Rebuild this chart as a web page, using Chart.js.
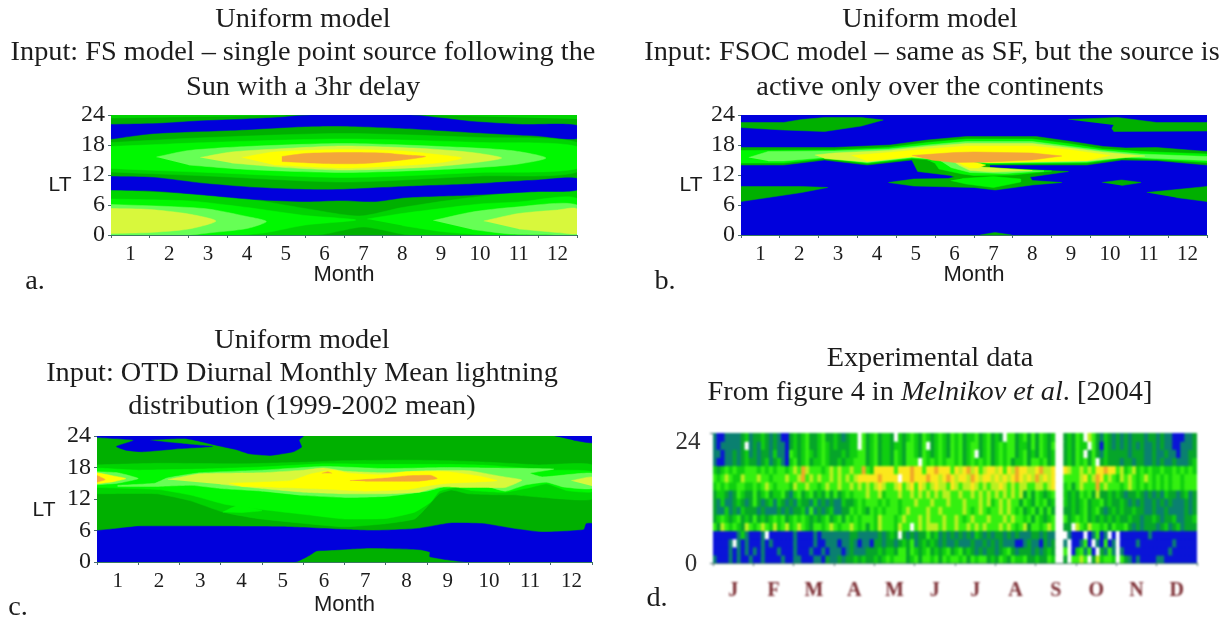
<!DOCTYPE html>
<html>
<head>
<meta charset="utf-8">
<script src="https://cdn.jsdelivr.net/npm/chart.js@4/dist/chart.umd.min.js"></script>
<style>
  html, body { margin: 0; background: #fff; }
  body { position: relative; width: 1229px; height: 618px; overflow: hidden; }
  canvas { position: absolute; filter: blur(0.6px); }
  .txt { position: absolute; white-space: nowrap; transform: translate(-50%, -50%); color: #1c1c1c; filter: blur(0.3px); }
  .serif { font-family: "Liberation Serif", serif; font-size: 28.3px; }
  .sans { font-family: "Liberation Sans", sans-serif; font-size: 21px; }
  .tick { font-family: "Liberation Serif", serif; font-size: 25px; color: #333; filter: blur(0.5px); }
</style>
</head>
<body>
<script>
const monthTicks = [0.5, 1, 1.5, 2, 2.5, 3, 3.5, 4, 4.5, 5, 5.5, 6, 6.5, 7, 7.5, 8, 8.5, 9, 9.5, 10, 10.5, 11, 11.5, 12, 12.5];
const edgeTicks = [0, 0.5, 1, 1.5, 2, 2.5, 3, 3.5, 4, 4.5, 5, 5.5, 6, 6.5, 7, 7.5, 8, 8.5, 9, 9.5, 10, 10.5, 11, 11.5, 12];
const ltTicks = [0, 6, 12, 18, 24];
const dLtTicks = [0, 24];
const dMonths = ["J", "F", "M", "A", "M", "J", "J", "A", "S", "O", "N", "D"];

// contour outlines, [month, LT]
const fullBox = [[0.5,0],[12.5,0],[12.5,24],[0.5,24]];

const aBlueTop = [[0.5,22.1],[1.7,22.3],[2.75,22.8],[4,23.2],[4.8,23.5],[5.67,24],[8.2,24],[9,23.4],[9.8,22.7],[11.1,22.1],[12.5,21.9],[12.5,19.3],[11.5,19.8],[9.8,20.5],[8.1,21.3],[6.4,21.8],[5.5,21.7],[3.8,21],[1.6,20.3],[0.5,19.2]];
const aBlueMid = [[0.5,11.7],[1.6,11.5],[2.9,10.3],[4.2,9.5],[5.5,9.1],[6.4,9.1],[8.1,9.7],[9.8,10.2],[11.5,11],[12.5,11.3],[12.5,9],[11.5,8.7],[9.8,8],[8.1,7.5],[7.3,6.7],[6.4,6.9],[5.5,6.7],[4.2,7.1],[2.9,8],[1.6,8.8],[0.5,9]];
const aStripL = [[0.5,24],[5,24],[0.5,23.4]];
const aStripR = [[8.6,24],[12.5,24],[12.5,23.2]];
const aMid = [[0.5,18.5],[3,19.5],[6.5,20.3],[10,19.5],[12.5,18.5],[12.5,12.6],[10,11.8],[6.5,10.6],[3,11.8],[0.5,12.6]];
const aBright = [[0.5,17.7],[3,18.5],[6.5,19.2],[10,18.5],[12.5,17.7],[12.5,13.3],[10,12.5],[6.5,11.5],[3,12.5],[0.5,13.3]];
const aLight = [[1.67,15.6],[2.5,16.9],[4,17.7],[6.5,18.3],[9,17.7],[10.8,16.9],[11.7,15.4],[10.8,14],[9,13.1],[6.5,12.5],[4,13.1],[2.5,14]];
const aPale = [[2.8,15.5],[3.6,16.6],[5,17.3],[6.5,17.8],[8.5,17.3],[9.8,16.5],[10.56,15.4],[9.8,14.4],[8.5,13.5],[6.5,13],[5,13.5],[3.6,14.4]];
const aYellow = [[3.87,15.5],[4.7,16.6],[6.5,17.1],[8,16.8],[9,16],[9.53,15.4],[9,14.5],[8,13.9],[6.5,13.4],[4.7,14]];
const aOrange = [[4.9,15.7],[5.5,16.3],[6.5,16.5],[7.5,16.4],[8.1,16],[8.6,15.7],[8,15],[7,14.3],[6,14.3],[4.9,14.7]];
const aLowMid = [[0.5,9],[2.9,8],[4.2,7],[5.5,5.3],[6.9,3.8],[8,5.5],[9.8,7.5],[12.5,9],[12.5,0],[8.2,0],[7,1.6],[5.8,0],[0.5,0]];
const aLowBrightL = [[0.5,7.2],[2.5,6.8],[4,5.5],[5.5,3.9],[6.8,3],[5.5,2],[4.5,0.5],[3.8,0],[0.5,0]];
const aLowBrightR = [[7.1,3.2],[8,4.3],[9,5.3],[10,6.2],[11,6.6],[12.5,7.3],[12.5,0],[10.2,0],[9,0.7],[8,1.9]];
const aLowLightL = [[0.5,6.1],[2,5.7],[3,5.2],[4,3.7],[4.5,2.7],[4,1.3],[3,0.4],[2.5,0],[0.5,0]];
const aLowLightR = [[8.8,2.9],[9.8,4.6],[10.8,5.5],[12.5,6],[12.5,0],[10.8,0.2],[9.8,1.1]];
const aLowPaleL = [[0.5,5.3],[1.5,5.1],[2.5,4.2],[3.2,2.8],[2.5,1.2],[1.5,0.5],[0.5,0.3]];
const aLowPaleR = [[10.1,2.8],[11,4.3],[12,5],[12.5,5.2],[12.5,0.3],[12,0.5],[11,1.2]];

const bTopL = [[0.5,22.5],[1.6,22.5],[2.06,23.1],[2.65,23.5],[3.6,23.5],[4.16,23],[3.6,21.8],[2.65,20.7],[1.6,21],[0.5,21.5]];
const bTopR = [[8.93,23.1],[10.2,23.5],[11.2,22.5],[12.5,22.5],[12.5,20.8],[10.1,20.7],[10.05,21.3],[10.1,22]];
const bMorningL = [[0.5,9.7],[2.06,9.7],[2.73,9.5],[2.06,8.5],[1.46,7.8],[0.5,6.7]];
const bMorningR = [[10.95,8.5],[12.5,9.7],[12.5,6.7],[11.7,7.5]];
const bDiamond = [[9.8,10.5],[10.3,11],[10.8,10.5],[10.3,9.9]];
const bNight = [[6.66,0],[7.04,0.5],[7.47,0]];
const bMain = [[0.5,17.5],[2.9,17.5],[4.35,18],[5.3,19],[6.3,19.7],[8.1,19.7],[9,18.7],[9.83,17.7],[10.4,17.4],[11.2,17.5],[12.5,16.7],[12.5,14],[11.2,14.9],[10.3,15],[9.4,14],[6.9,14],[6.9,13.5],[8.93,12.7],[7.94,11.6],[8,10.9],[8.76,10.5],[8,10],[7.05,9],[6.5,9.5],[4.95,9.8],[4.3,10.5],[4.95,11.2],[5.84,11.3],[6,11.6],[5.9,11.9],[5.05,12.7],[4.9,15],[3.75,14],[2.65,15],[1.6,14],[0.5,14]];
const bBright = [[0.5,16.9],[2.9,17],[4.3,17.5],[5.3,18.5],[6.3,19.2],[8,19.2],[9,18.2],[9.8,17.2],[10.8,16.7],[12.5,16.2],[12.5,14.5],[11.2,15.1],[10.4,15.4],[9.4,14.4],[6.9,14.2],[6.5,14.2],[5.4,15],[4.9,15.3],[3.75,14.3],[2.65,15.3],[1.6,14.4],[0.5,14.4]];
const bLight = [[0.7,15.5],[1.2,16.7],[2.9,16.8],[4.3,17.2],[5.3,18],[6.3,18.7],[8,18.7],[9,17.7],[9.8,16.9],[10.8,16.2],[12.5,15.7],[12.5,14.9],[11.2,15.3],[10.4,15.6],[9.4,14.6],[6.9,14.4],[5.4,15.2],[4.9,15.5],[3.75,14.5],[2.65,15.5],[1.6,14.8],[1.2,14.8]];
const bPale = [[2.4,16],[2.9,16.4],[4.3,16.9],[5.3,17.7],[6.3,18.3],[8,18.3],[9,17.4],[9.8,16.6],[10.9,15.8],[9.9,15.2],[9.4,14.8],[6.9,14.5],[5.4,15.3],[4.9,15.6],[3.75,14.6],[2.65,15.3]];
const bYellow = [[3.35,15.9],[4.3,16.5],[5.3,17.2],[6.3,17.8],[8,17.8],[9,17],[10,15.9],[9.4,14.9],[6.9,14.5],[5.4,15.4],[4.9,15.7],[3.75,14.8]];
const bOrange = [[4.9,15.9],[6,16.5],[6.5,16.6],[8,16.4],[8.76,15.8],[8,15],[6.9,14.6],[6,14.5],[5.4,15]];
const bHookBright = [[5.3,15],[5.9,14.7],[6.4,13.6],[6.9,13.4],[8.5,12.8],[7.5,12],[6.5,11.9],[6.2,12.2],[5.6,13.2],[5.5,14.3]];
const bHookLight = [[5.6,15],[6,14.7],[6.5,13.6],[6.9,13.2],[8.3,12.8],[7.3,12.3],[6.4,12.5],[5.9,13.5]];
const bHookPale = [[5.9,15],[6.4,14.6],[6.7,13.6],[8,12.9],[7,12.6],[6.4,12.9],[6.1,14]];
const bHookYellow = [[6,14.9],[6.5,14.6],[6.8,14],[6.6,13.4],[6.4,13.4],[6.2,14]];
const bLowBright = [[6.2,11.3],[7,11.7],[7.7,11.2],[7.7,10.6],[7,9.5],[6.3,10.2],[5.9,10.9]];

const cBlueLow = [[0.5,6],[0.97,6.35],[1.54,6.8],[3.56,6.8],[5.18,6.67],[6.47,6.2],[7.2,6],[8.25,6.35],[9.06,7.4],[9.87,7.3],[10.6,6.35],[11.3,5.7],[12.3,6.15],[12.36,7.3],[12.5,7.3],[12.5,0],[9.45,0],[8.57,1],[8.57,1.9],[8.33,2.35],[7.12,2.65],[6.39,2.35],[5.82,2.1],[5.66,1.3],[5.3,0],[0.5,0]];
const cBlueTop = [[0.5,24],[5.5,24],[5.4,23.2],[5.46,21.9],[5.26,21],[4.7,20.3],[4.2,20.6],[3.88,21.4],[3.5,22.05],[2.67,23.5],[1.78,23.2],[2.75,22.4],[3.3,22],[2.5,21.6],[1.6,21],[1.2,21.3],[0.97,22],[1.4,23.2],[0.5,23.7]];
const cBlueCorner = [[11.6,24],[12.5,24],[12.5,22.7],[12.05,23.2]];
const cMid = [[0.5,18.5],[2,18.8],[4,18.7],[5.5,19],[6.5,19.3],[8,19.4],[9,19.3],[10,19],[11.2,18.5],[12.5,18.5],[12.5,12],[11.3,12.3],[10.6,12.8],[10.2,12.8],[9.5,13],[9.1,13.7],[8.8,13],[8.5,10.5],[8.2,8.2],[7.5,7.3],[6.5,6.7],[5.58,7.3],[4.37,8.3],[3.56,9.5],[2.75,11.7],[1.94,13],[0.5,13]];
const cBright = [[0.5,17.9],[1.5,17.5],[3,17.7],[4.5,18.1],[6,18.7],[7.5,18.6],[9,18.6],[10,18.4],[11.5,17.5],[12.5,17.2],[12.5,13.4],[11.9,13.6],[11.4,14.9],[11,14.2],[10.4,13.3],[10,13.4],[9.6,13.6],[9.2,14.2],[8.8,13.5],[8.6,11.5],[8.2,9.5],[7.5,8.3],[6.5,8.2],[5.6,9],[4.5,10],[3.6,11],[2.8,12.7],[2,13.8],[0.5,14.2]];
const cPatchL = [[3.55,9.5],[3.9,10.7],[4.5,9.8],[4,9.4]];
const cPatchR = [[7.8,10.6],[8,11],[8.3,10.5],[8,10.2]];
const cLight = [[1,14.6],[1.9,15],[2.2,16],[3,17],[4.5,17.5],[6,18.2],[7.5,17.8],[9,18],[10,17.9],[11.57,17.7],[11,16.9],[11.3,16.2],[12.5,16.9],[12.5,14],[11.8,14.3],[11.4,15.2],[10.9,14.7],[10.4,13.5],[9.9,14.5],[9.5,14.3],[9,14.5],[8.5,13.5],[7.5,12.5],[6.5,12.3],[5.5,12.7],[4.5,13.5],[3.5,14],[2.8,14.6],[2,14.4],[1,14.4]];
const cLightBlob = [[0.5,17.2],[1,17],[1.5,15.9],[1,15],[0.5,14.7]];
const cPale = [[2.22,15.7],[3,16.8],[4.5,17],[5.5,17.5],[6,17.9],[6.5,17.3],[7.5,17],[8.5,17.4],[9.5,17.4],[10.3,16.3],[10.8,15.6],[10.4,14.2],[9.9,14.2],[9.3,14.2],[8.8,14.3],[8.3,13.3],[7.5,13],[6.5,13],[5.5,13.3],[4.5,14],[3.5,14.8]];
const cPaleEnd = [[12,15.5],[12.5,16.2],[12.5,14.5]];
const cYellow = [[3.7,15],[5.2,15.5],[5.7,16.8],[6.2,17.5],[6.6,16.9],[7.4,16.6],[8,17.2],[9,17.2],[9.8,16.3],[10.2,15.5],[9.6,15.2],[9,15],[8.5,14.5],[8,13.8],[7,13.5],[6,13.9],[5,14.2],[4,14.4]];
const cYellowBlob = [[0.5,17],[0.9,16.4],[1.2,15.9],[0.9,15.3],[0.5,14.9]];
const cOrange = [[6.63,15.5],[7.5,16],[8,16.4],[8.6,16.5],[8.75,15.9],[8.3,15.4],[7,15.4]];
const cOrangeBlob = [[0.5,16.5],[0.7,15.7],[0.5,15.2]];
const cOrangeDot = [[5.95,16.9],[6.1,17.2],[6.2,16.9]];

// panel d: one string per LT row (top first), 10 cells a month
const dRowEdges = [24, 22.5, 21, 19.5, 18, 16.5, 15, 13.5, 12, 10.5, 9, 7.5, 6, 4.5, 3, 1.5, 0];
const dRows = [
  "tbbttttgmt ggmgtgtbbg mgmlggmlgg mgtgmmwlgm lgmmgwmgml mglmgmlmgl mlgmmlgmlg mgwllgmlgl glmgmwwgmg lmwylgtmgt gtgtgggtgg tgttbbbttg",
  "tbtttttgwt gtmgtgttbg mgmlggmlmg mgggmmwlgm lgmmgmmgll mglwgmlmgl mlgmllgmlg mlmllgmmgl glmglwwgmg lmmwlgbmgt gtgtgtgttg tgttbbtttg",
  "ttbttgtgmt gtggtmttbl mgmlmgmlmg ggmgmmllgm lgmmglmgll mglmgmlmgl mlgmlwgmlg mlmllgmlgm glmgmwwgmg lmwglgtmgg gggtgggttg ttgttbttgg",
  "tbbttgtgmg gtgmtgmtbm lgmlgmmlmg gmgmmlllgm lgmmglmgll lwlmlmlmll mlgmlmlmlg mlmlgmmlgl lmlgmwwgmg lmlglwgmgg gtggtggttg tgttgtttgm",
  "mgmlmlmmll lmlmlmllml yloylllmly lyllyllolm YYYYYlYYYo YYlYYoYYYl YyYoyYlyYY yYlYyoYYyy YoyyYwwYyl lylylYYoYY lymlymlmlm mlmmlmlmlm",
  "lmlylmmyll lyllmlllyl lyolylylly lylylyYYYY YoYYYYwYYo YYYoYYyYoY yYYyoYyYYy YyYyYoYyYy oyYyYwwlll lyYlyoYlyl mylylmlylm lmlmllmlll",
  "mlmlmmllmm lmlylmlllm yllyllmlyl lyllylylyl yYyllyYlyY lYylyYyylY ylyyYylyly yYylylyyll yylyYwwmlg lylllolyll lmlylmlmlm lmlmllmlll",
  "gmmgtglmgg lgmlgmmlgt mlgmlgmglg lgmlmlllyl lymlllylly lylylylyyl lyllylylyl ylylylyglg lmgmlwwmgm glmlgyggmg mgtggmgtgt gtmggtgmtg",
  "gtmttgmgtg lgtgmtmgtg tmggtmtgtg ttmggmlmll lmlmllmlll ylllylllyl llylllylym lylyllglmg lmlgmwwmgm gmlgmmlgmg gmgtgtgttg tgtgtttgtg",
  "gttmtgtmgg gtgtttgtgt ggmtltgtgm ttgglmlmgl mlmlllmlyl lllyllylll llylmlylml lylylmlgml glglgwwggm gmlgmlgtgm gmggmggttg ttgttttgtg",
  "gmlmgmlgmg lgmgmlmlgm lmlmgmgmlg mlglmlmlll mylllmlyll lylylllyll ylmlylllyl llylyllmlg lmgmlwwlgm lmlgmgmgmg mggmggtggm gtggmttggm",
  "lgylmlmgyl mlylmymlym lylmgllmly lmllylmlgl mylllmyllw lylyyylyll yllylylyll lylylmlygl lmlylwwggw ylmyllmlgl mmlgtgtggg tgmtgmtggg",
  "bbbbbbtmtb bbtwbbbbbb tbbbbtbttt ttttggtttt tgtgmgwgtg tgglgmtgtg tgtgtmgtgt ggtgtgtttg gtgttwwwtb bbwbtlbtwb wbbbbbbbtb bbbbbbbbbb",
  "bbbbtwtbtb bbtbtbbbbb tbbbbtbbtt tbttgtbttb ggtggtgmgl tgmgmgtgtt gtttgttgtg tgtttbbtgt tbgtgwwtwb btlbwtblbt wbbbbtbbbb bbbbtbbbbb",
  "bbbbtbtbtb tbtbbbtbbb tbbbtbbtbt ttbtgtttgg gmgmmgllgl mgmlgmgmlg mlgmgtgtgg tgmlgtgggt gtgmgwwlwb mltlbwgtlt wtbbbbbbbb bbbtbbbbbb",
  "tbbbtbtbbt bbtbbbbtbb ttbbbttbgt tgtggmgmgg mgmlmlllgm lgllmlglml lmlglmllgm glmglmmlgg mgglmwwgwl lylwgymllm wlgtbtbbbb ttbbbbbbbb"
];

const BLUE = "#0000dc", DARK = "#00b000", MID = "#00d400", BRIGHT = "#00f800",
      LIGHT = "#66ff55", PALE = "#d8f83c", YELLOW = "#ffff00", ORANGE = "#f4a63a";
const dColors = { b: "#0a14d8", t: "#0a8070", g: "#06a52a", m: "#10cf10", l: "#34f010", y: "#b8f020", Y: "#fbe81c", o: "#f0a828", w: "#ffffff" };

// painted back to front
const panelA = [[DARK, fullBox], [MID, aStripL], [MID, aStripR], [MID, aMid], [BRIGHT, aBright], [LIGHT, aLight], [PALE, aPale], [YELLOW, aYellow], [ORANGE, aOrange],
  [MID, aLowMid], [BRIGHT, aLowBrightL], [BRIGHT, aLowBrightR], [LIGHT, aLowLightL], [LIGHT, aLowLightR], [PALE, aLowPaleL], [PALE, aLowPaleR], [BLUE, aBlueTop], [BLUE, aBlueMid]];
const panelB = [[BLUE, fullBox], [DARK, bTopL], [DARK, bTopR], [DARK, bMorningL], [DARK, bMorningR], [DARK, bDiamond], [DARK, bNight], [DARK, bMain], [BRIGHT, bBright], [LIGHT, bLight], [PALE, bPale], [YELLOW, bYellow],
  [BRIGHT, bHookBright], [LIGHT, bHookLight], [PALE, bHookPale], [YELLOW, bHookYellow], [BRIGHT, bLowBright], [ORANGE, bOrange]];
const panelC = [[DARK, fullBox], [MID, cMid], [BRIGHT, cBright], [BRIGHT, cPatchL], [BRIGHT, cPatchR], [LIGHT, cLight], [LIGHT, cLightBlob], [PALE, cPale], [PALE, cPaleEnd], [YELLOW, cYellow], [YELLOW, cYellowBlob], [ORANGE, cOrange], [ORANGE, cOrangeBlob], [ORANGE, cOrangeDot],
  [BLUE, cBlueLow], [BLUE, cBlueTop], [BLUE, cBlueCorner]];

const TOP_SPACE = 20;

function addCanvas(left, top, width, height) {
  const c = document.createElement("canvas");
  c.style.left = left + "px";
  c.style.top = top + "px";
  c.style.width = width + "px";
  c.style.height = height + "px";
  c.width = width;
  c.height = height;
  document.body.appendChild(c);
  return c;
}

function addText(html, x, y, cls) {
  const d = document.createElement("div");
  d.className = "txt " + cls;
  d.style.left = x + "px";
  d.style.top = y + "px";
  d.innerHTML = html;
  document.body.appendChild(d);
}

function axisOptions(box, xTicks, xLabel, xFont, xColor, yTicks) {
  return {
    x: {
      type: "linear", min: xTicks[0], max: xTicks[xTicks.length - 1], offset: false,
      afterBuildTicks: s => { s.ticks = xTicks.map(value => ({ value })); },
      afterFit: s => { s.height = box.bottomSpace; },
      border: { color: "#3a7a60", width: 1 },
      grid: {
        offset: false, drawOnChartArea: false, tickLength: 3,
        tickColor: ctx => ctx.tick && xLabel(ctx.tick.value) === "" ? "#4a6a70" : "rgba(0,0,0,0)"
      },
      ticks: { autoSkip: false, maxRotation: 0, minRotation: 0, padding: box.tickPad, color: xColor, font: xFont, callback: xLabel },
      title: box.month ? { display: true, text: "Month", color: "#1c1c1c", padding: 0, font: { family: "Liberation Sans", size: 22 } } : { display: false }
    },
    y: {
      type: "linear", min: 0, max: 24,
      afterBuildTicks: s => { s.ticks = yTicks.map(value => ({ value })); },
      afterFit: s => { s.width = box.leftSpace; },
      border: { display: false },
      grid: { drawOnChartArea: false, tickLength: 3, tickColor: "#4a6a70" },
      ticks: { autoSkip: false, padding: 3, color: "#1c1c1c", font: { family: "Liberation Serif", size: 24 }, callback: box.yLabel }
    }
  };
}

const monthLabel = v => Number.isInteger(v) ? String(v) : "";
const serifTick = { family: "Liberation Serif", size: 21 };

function contourPanel(box, layers) {
  const canvas = addCanvas(box.left - box.leftSpace, box.top - TOP_SPACE, box.leftSpace + box.width + 10, TOP_SPACE + box.height + box.bottomSpace);
  new Chart(canvas, {
    type: "scatter",
    data: {
      // chart.js draws the first dataset last
      datasets: layers.slice().reverse().map(([color, pts]) => ({
        data: pts.map(([x, y]) => ({ x, y })),
        showLine: true, fill: "shape", backgroundColor: color, borderColor: color,
        borderWidth: 0.5, pointRadius: 0, tension: box.tension
      }))
    },
    options: {
      responsive: false, animation: false, events: [],
      layout: { padding: { top: TOP_SPACE, right: 10, left: 0, bottom: 0 } },
      plugins: { legend: { display: false }, tooltip: { enabled: false } },
      scales: axisOptions(box, monthTicks, monthLabel, serifTick, "#1c1c1c", ltTicks)
    }
  });
}

const plainLabel = v => String(v);
contourPanel({ left: 111, top: 115, width: 466, height: 120, leftSpace: 70, bottomSpace: 53, tickPad: 4, month: true, tension: 0.25, yLabel: plainLabel }, panelA);
contourPanel({ left: 741, top: 115, width: 466, height: 120, leftSpace: 70, bottomSpace: 53, tickPad: 4, month: true, tension: 0, yLabel: plainLabel }, panelB);
contourPanel({ left: 97, top: 436, width: 495, height: 126, leftSpace: 70, bottomSpace: 56, tickPad: 4, month: true, tension: 0.15, yLabel: plainLabel }, panelC);

// panel d: floating bars, one dataset per LT row
const dBox = { left: 713, top: 433, width: 487, height: 130, leftSpace: 70, bottomSpace: 42, tickPad: 13, month: false, yLabel: () => "" };
const dCanvas = addCanvas(dBox.left - dBox.leftSpace, dBox.top - TOP_SPACE, dBox.leftSpace + dBox.width + 10, TOP_SPACE + dBox.height + dBox.bottomSpace);
dCanvas.style.filter = "blur(1.2px)";
const dLabel = v => Number.isInteger(v) ? "" : dMonths[Math.floor(v)];
new Chart(dCanvas, {
  type: "bar",
  data: {
    datasets: dRows.map((row, r) => {
      const cells = row.replace(/ /g, "").split("");
      return {
        data: cells.map((_, i) => ({ x: (i + 0.5) / 10, y: [dRowEdges[r + 1], dRowEdges[r]] })),
        backgroundColor: cells.map(k => dColors[k]),
        borderWidth: 0, inflateAmount: 0.6, grouped: false, barPercentage: 1, categoryPercentage: 1
      };
    })
  },
  options: {
    responsive: false, animation: false, events: [],
    layout: { padding: { top: TOP_SPACE, right: 10, left: 0, bottom: 0 } },
    plugins: { legend: { display: false }, tooltip: { enabled: false } },
    scales: axisOptions(dBox, edgeTicks, dLabel, { family: "Liberation Serif", size: 20, weight: "bold" }, "#7a2a30", dLtTicks)
  }
});

addText("Uniform model", 303, 18, "serif");
addText("Input: FS model – single point source following the", 303, 51, "serif");
addText("Sun with a 3hr delay", 303, 86, "serif");
addText("Uniform model", 930, 18, "serif");
addText("Input: FSOC model – same as SF, but the source is", 932, 51, "serif");
addText("active only over the continents", 930, 86, "serif");
addText("Uniform model", 302, 339, "serif");
addText("Input: OTD Diurnal Monthly Mean lightning", 302, 372, "serif");
addText("distribution (1999-2002 mean)", 302, 405, "serif");
addText("Experimental data", 930, 357, "serif");
addText("From figure 4 in <i>Melnikov et al</i>. [2004]", 930, 391, "serif");
addText("LT", 60, 184, "sans");
addText("LT", 691, 184, "sans");
addText("LT", 44, 509, "sans");
addText("24", 688, 441, "tick");
addText("0", 691, 563, "tick");
addText("a.", 35, 280, "serif");
addText("b.", 665, 280, "serif");
addText("c.", 18, 606, "serif");
addText("d.", 657, 597, "serif");
</script>
</body>
</html>
